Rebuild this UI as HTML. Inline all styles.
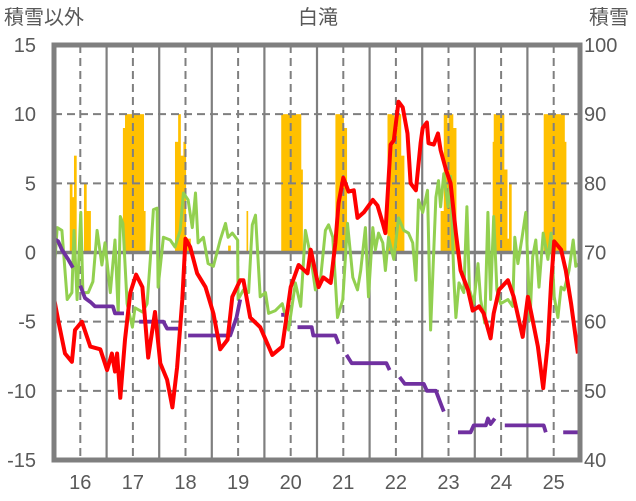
<!DOCTYPE html>
<html><head><meta charset="utf-8"><style>
html,body{margin:0;padding:0;background:#fff;}
svg{display:block;font-family:"Liberation Sans","Noto Sans CJK JP",sans-serif;}
</style></head><body>
<svg id="chart" width="636" height="501" viewBox="0 0 636 501"></svg>
<script>
const leftTicks=[15,10,5,0,-5,-10,-15];
const rightTicks=[100,90,80,70,60,50,40];
const yearLabels=["16","17","18","19","20","21","22","23","24","25"];
const yearCenters=[16,17,18,19,20,21,22,23,24,25];
const yearBounds=[16.5,17.5,18.5,19.5,20.5,21.5,22.5,23.5,24.5];
const redT=[15.50,15.58,15.71,15.84,15.90,16.03,16.19,16.38,16.51,16.60,16.66,16.70,16.76,16.85,16.95,17.06,17.18,17.29,17.42,17.52,17.65,17.75,17.84,17.94,18.00,18.09,18.22,18.38,18.53,18.66,18.80,18.89,19.04,19.10,19.23,19.42,19.65,19.84,20.00,20.15,20.32,20.38,20.53,20.62,20.76,20.85,20.91,21.00,21.10,21.20,21.27,21.39,21.56,21.65,21.75,21.80,21.90,21.96,22.05,22.13,22.22,22.28,22.38,22.47,22.51,22.59,22.62,22.72,22.80,22.85,22.95,23.04,23.14,23.23,23.37,23.46,23.58,23.67,23.80,23.86,23.96,24.13,24.24,24.41,24.51,24.60,24.70,24.80,24.89,24.95,25.01,25.14,25.23,25.33,25.46];
const redV=[-3.3,-4.9,-7.3,-7.9,-5.6,-5.0,-6.8,-7.0,-8.5,-7.3,-8.6,-7.3,-10.5,-6.3,-2.9,-1.6,-2.5,-7.6,-4.3,-8.0,-9.2,-11.2,-8.3,-3.4,1.0,0.4,-1.5,-2.5,-4.4,-7.0,-6.3,-3.2,-2.0,-2.0,-4.7,-5.4,-7.4,-6.8,-2.5,-0.9,-1.5,0.2,-2.5,-1.8,-2.2,0.7,3.6,5.4,4.4,4.5,2.5,2.9,3.8,3.4,2.1,1.4,7.8,8.1,10.9,10.5,8.6,5.0,4.5,7.9,9.0,9.4,7.9,7.8,8.6,7.4,6.0,5.0,1.4,-1.3,-2.7,-4.2,-3.9,-4.4,-6.2,-4.4,-2.7,-2.0,-3.2,-6.1,-3.2,-4.9,-6.8,-9.8,-6.5,-2.2,0.8,0.2,-1.3,-3.7,-7.3];
const greenT=[15.50,15.56,15.65,15.75,15.84,15.88,15.94,16.01,16.05,16.15,16.24,16.32,16.41,16.47,16.57,16.66,16.72,16.76,16.81,16.89,16.99,17.04,17.18,17.27,17.33,17.39,17.46,17.48,17.58,17.71,17.80,17.90,17.96,18.05,18.13,18.19,18.24,18.34,18.43,18.53,18.66,18.76,18.81,18.89,18.99,19.00,19.10,19.20,19.27,19.33,19.42,19.52,19.58,19.71,19.84,19.96,20.09,20.19,20.28,20.38,20.47,20.57,20.66,20.72,20.80,20.89,20.99,21.08,21.18,21.27,21.33,21.42,21.48,21.56,21.61,21.67,21.75,21.80,21.86,21.96,22.05,22.15,22.24,22.32,22.38,22.43,22.51,22.60,22.66,22.76,22.81,22.85,22.91,22.99,23.04,23.10,23.14,23.20,23.29,23.35,23.40,23.48,23.56,23.61,23.69,23.75,23.80,23.86,23.92,23.99,24.13,24.22,24.26,24.32,24.40,24.47,24.55,24.60,24.66,24.72,24.80,24.89,24.95,25.01,25.08,25.14,25.20,25.29,25.37,25.42,25.48];
const greenV=[-1.5,1.8,1.6,-3.4,-2.9,1.6,-3.4,2.9,-2.9,-2.9,-2.1,1.6,-0.9,0.7,-2.9,0.9,-4.4,2.6,2.1,-3.7,-5.4,-4.0,-4.3,-3.7,-0.5,3.1,3.2,-2.5,1.1,0.9,0.4,1.6,4.3,3.8,1.8,4.3,0.7,1.1,-0.8,-1.0,0.9,2.1,1.1,1.4,0.9,-3.4,-2.7,-2.9,2.0,2.7,-3.2,-2.9,-4.4,-4.2,-3.7,-5.6,-2.2,-3.9,1.6,-0.3,-2.7,-1.8,1.6,2.0,1.1,-4.7,-3.4,2.1,-1.8,-2.7,-1.3,1.8,-3.2,1.8,0.2,1.4,0.7,-1.3,1.1,-0.5,2.5,1.6,1.4,0.7,-2.0,3.8,2.9,4.5,-5.6,4.0,5.2,3.3,5.7,3.3,5.5,-1.8,-4.7,-2.2,-2.9,3.3,-2.7,-3.7,-0.8,-3.4,-5.1,2.9,-3.4,2.6,-2.7,-3.7,-3.4,-3.9,1.1,-0.8,1.1,2.9,-4.9,-0.3,0.9,-2.5,1.4,-0.5,1.4,-3.2,-4.7,-2.5,-2.7,-1.3,0.9,-1.0,-0.8];
const purpleT=[15.50,15.58,15.65,15.77,15.86,null,16.00,16.09,16.20,16.28,16.62,16.66,16.83,null,17.12,17.58,17.65,17.86,null,18.05,18.85,18.97,19.04,null,19.82,19.88,null,20.13,20.40,20.43,20.85,20.91,null,21.06,21.16,21.82,21.88,null,22.07,22.17,22.53,22.59,22.76,22.85,22.91,null,23.18,23.42,23.48,23.71,23.75,23.80,23.88,null,24.07,24.81,24.85,null,25.18,25.50];
const purpleV=[1.0,0.8,0.2,-0.5,-1.1,null,-2.4,-3.3,-3.6,-3.9,-3.9,-4.4,-4.4,null,-5.0,-5.0,-5.5,-5.5,null,-6.0,-6.0,-4.7,-3.4,null,-4.5,-4.5,null,-5.4,-5.4,-6.0,-6.0,-6.6,null,-7.4,-8.0,-8.0,-8.5,null,-9.0,-9.5,-9.5,-10.0,-10.0,-10.9,-11.5,null,-13.0,-13.0,-12.5,-12.5,-12.0,-12.4,-12.0,null,-12.5,-12.5,-13.0,null,-13.0,-13.0];
const snowStart=[15.80,15.84,15.88,16.07,16.11,16.15,16.81,16.85,17.20,17.80,17.86,17.90,17.96,18.00,18.81,19.16,19.82,20.19,20.85,21.00,21.84,21.96,22.03,22.09,22.85,22.91,22.97,23.00,23.08,23.84,23.86,24.05,24.11,24.15,24.81,25.20];
const snowEnd=[15.84,15.88,15.92,16.11,16.15,16.19,16.85,17.20,17.23,17.86,17.90,17.96,18.00,18.09,18.85,19.18,20.19,20.22,21.00,21.06,21.96,22.03,22.09,22.15,22.91,22.97,23.00,23.08,23.14,23.86,24.05,24.11,24.15,24.19,25.20,25.23];
const snowV=[80,78,84,80,76,76,88,90,76,86,90,84,86,72,71,76,90,82,90,88,90,88,90,84,76,90,88,90,88,86,90,82,72,80,90,86];

const X0=54,X1=580,Y0=45,Y1=460,T0=15.5,T1=25.5;
const xs=t=>X0+(t-T0)/(T1-T0)*(X1-X0);
const yL=v=>Y1-(v+15)/30*(Y1-Y0);
const yR=v=>Y1-(v-40)/60*(Y1-Y0);
const svg=document.getElementById('chart');
const NS='http://www.w3.org/2000/svg';
function mk(tag,attrs,parent){const e=document.createElementNS(NS,tag);for(const k in attrs)e.setAttribute(k,attrs[k]);(parent||svg).appendChild(e);return e;}

const gBars=mk('g',{});


for(let i=0;i<snowV.length;i++){
  const x=xs(snowStart[i]),w=xs(snowEnd[i])-x;
  const r=mk('rect',{x:x,y:yR(snowV[i]),width:w+0.6,height:yR(70)-yR(snowV[i]),fill:'#ffc000'},gBars);
  
  
}
const gGrid=mk('g',{});


[10,5,-5,-10].forEach(v=>{mk('line',{x1:X0,x2:X1,y1:yL(v),y2:yL(v),stroke:'#7f7f7f','stroke-width':2,'stroke-dasharray':'8,5'},gGrid);});
yearCenters.forEach(t=>{mk('line',{x1:xs(t),x2:xs(t),y1:Y0,y2:Y1,stroke:'#7f7f7f','stroke-width':2,'stroke-dasharray':'8,5'},gGrid);});
yearBounds.forEach(t=>{mk('line',{x1:xs(t),x2:xs(t),y1:Y0,y2:Y1,stroke:'#7f7f7f','stroke-width':2.2},gGrid);});
const zero=mk('line',{x1:X0,x2:X1,y1:yL(0),y2:yL(0),stroke:'#7f7f7f','stroke-width':3.5});



function path(T,V,yf){let d='',pen=false;for(let i=0;i<T.length;i++){if(T[i]===null){pen=false;continue;}d+=(pen?'L':'M')+xs(T[i]).toFixed(1)+','+yf(V[i]).toFixed(1);pen=true;}return d;}
const g=mk('path',{d:path(greenT,greenV,yL),fill:'none',stroke:'#92d050','stroke-width':3,'stroke-linejoin':'round'});


const p=mk('path',{d:path(purpleT,purpleV,yL),fill:'none',stroke:'#7030a0','stroke-width':3.8,'stroke-linejoin':'round'});


const r=mk('path',{d:path(redT,redV,yL),fill:'none',stroke:'#ff0000','stroke-width':4,'stroke-linejoin':'round'});



const frame=mk('rect',{x:X0,y:Y0,width:X1-X0,height:Y1-Y0,fill:'none',stroke:'#7f7f7f','stroke-width':5});



function txt(s,x,y,anchor,name){const e=mk('text',{x:x,y:y,'text-anchor':anchor,'font-size':20,fill:'#595959'});e.textContent=s;return e;}
leftTicks.forEach(v=>txt(String(v),36,yL(v)+7,'end','left-tick-label'));
rightTicks.forEach(v=>txt(String(v),584,yR(v)+7,'start','right-tick-label'));
yearLabels.forEach((s,i)=>txt(s,xs(yearCenters[i]),489,'middle','x-tick-label'));
txt('積雪以外',4,24,'start','left-axis-title');
txt('積雪',589,24,'start','right-axis-title');
txt('白滝',318,24,'middle','chart-title');
</script>
</body></html>
